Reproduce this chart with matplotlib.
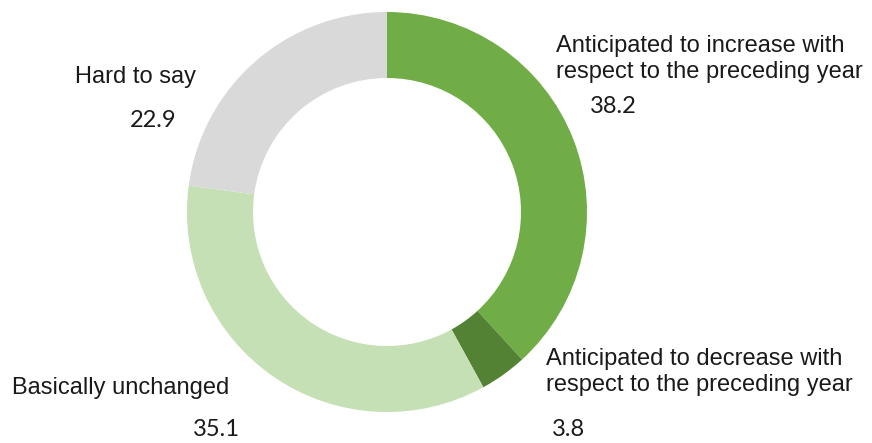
import matplotlib.pyplot as plt

labels = ['Anticipated to increase with\nrespect to the preceding year',
          'Anticipated to decrease with\nrespect to the preceding year',
          'Basically unchanged',
          'Hard to say']
values = [38.2, 3.8, 35.1, 22.9]
colors = ['#70AD47', '#548235', '#C5E0B4', '#D9D9D9']

W, H = 872, 443
fig = plt.figure(figsize=(W / 100, H / 100), dpi=100)
ax = fig.add_axes([0, 0, 1, 1])

# pixel-like coordinates, y measured from the top
cx, cy = 387, 212
ax.pie(values, colors=colors, startangle=90, counterclock=False,
       center=(cx, H - cy), radius=200,
       wedgeprops=dict(width=66, linewidth=0))
ax.set_xlim(0, W)
ax.set_ylim(0, H)
ax.set_aspect('equal')
ax.axis('off')

lab_font = dict(family='Liberation Sans', fontsize=17, color='#1a1a1a')
num_font = dict(family='Lato', fontsize=17, color='#1a1a1a')

# label positions: (text x, text y, number x, number y)
pos = [(556, 59, 590, 106),
       (546, 372, 552, 430),
       (12, 388, 193, 430),
       (75, 77, 130, 120)]
for lab, v, (tx, ty, nx, ny) in zip(labels, values, pos):
    ax.text(tx, H - ty, lab, ha='left', va='center', linespacing=1.2, **lab_font)
    ax.text(nx, H - ny, f'{v:.1f}', ha='left', va='center', **num_font)

fig.savefig('out.png', dpi=100)
